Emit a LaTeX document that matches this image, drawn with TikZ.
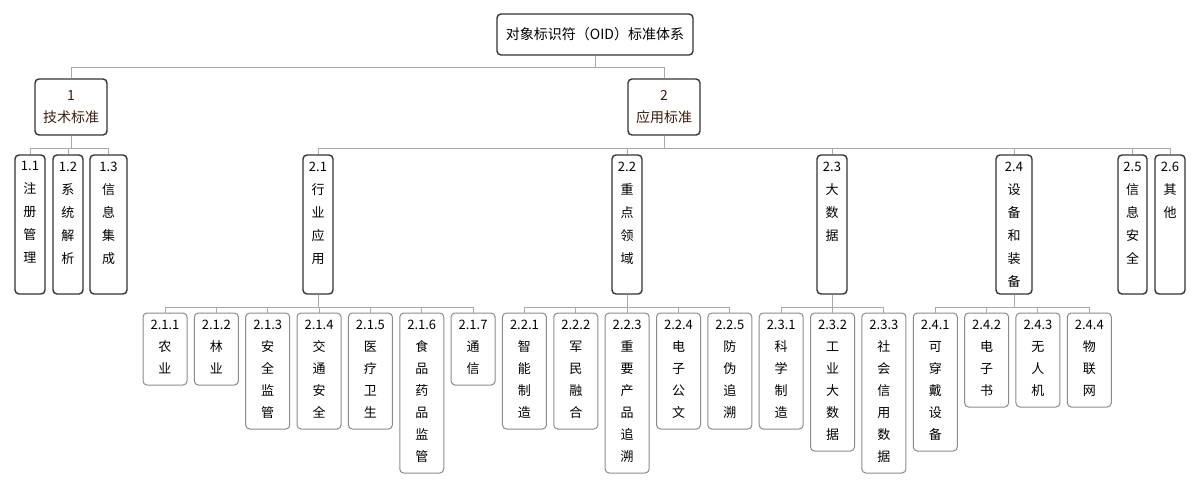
\documentclass[tikz,border=0pt]{standalone}
\usepackage{fontspec}
\setmainfont{Noto Sans CJK SC}
\usetikzlibrary{fit,positioning}
\definecolor{bossline}{HTML}{333333}
\definecolor{leafline}{HTML}{8A8A8A}
\definecolor{wireline}{HTML}{A8A8A8}
\definecolor{headtext}{HTML}{3A1F10}
\tikzset{
  bossbox/.style = {draw = bossline, line width = .7pt, rounded corners = 2pt, inner sep = 0pt},
  leafbox/.style = {draw = leafline, line width = .5pt, rounded corners = 2pt, inner sep = 0pt},
  wire/.style = {draw = wireline, line width = .5pt},
  label/.style = {inner sep = 0pt, align = center}
}
% box: style, name, left, top, right, bottom, text, line skip
\newcommand\obox[8]{%
  \node[#1, fit = {(#3,#4) (#5,#6)}] (#2) {};
  \node[label, anchor = north, font = \fontsize{6.5}{#8}\selectfont] at ([yshift = -3.5pt]#2.north) {#7};
}
\begin{document}
\begin{tikzpicture}[x = .5pt, y = -.5pt]
\useasboundingbox (0,0) rectangle (1200,489);
% root and first level
\node[bossbox, fit = {(497,14) (693,55)}] (root) {};
\node[label, font = \fontsize{7}{9}\selectfont] at (root.center) {对象标识符（OID）标准体系};
\node[bossbox, fit = {(35,79) (107,135)}] (tech) {};
\node[label, text = headtext, font = \fontsize{7}{11}\selectfont] at (tech.center) {1\\技术标准};
\node[bossbox, fit = {(628,79) (700,135)}] (appl) {};
\node[label, text = headtext, font = \fontsize{7}{11}\selectfont] at (appl.center) {2\\应用标准};
\draw[wire] (root.south) -- ++(0,12) -| (tech.north);
\draw[wire] (root.south) -- ++(0,12) -| (appl.north);
% second level
\foreach \name/\lft/\rgt/\txt in {t1/15/45/{1.1\\注\\册\\管\\理}, t2/53/83/{1.2\\系\\统\\解\\析},
  t3/90/127/{1.3\\信\\息\\集\\成}}
  {\obox{bossbox}{\name}{\lft}{155}{\rgt}{294}{\txt}{11.5}
   \draw[wire] (tech.south) -- ++(0,13) -| (\name.north);}
\foreach \name/\lft/\rgt/\txt in {a1/303/333/{2.1\\行\\业\\应\\用}, a2/612/642/{2.2\\重\\点\\领\\域},
  a3/817/847/{2.3\\大\\数\\据}, a4/996/1032/{2.4\\设\\备\\和\\装\\备},
  a5/1118/1147/{2.5\\信\\息\\安\\全}, a6/1155/1185/{2.6\\其\\他}}
  {\obox{bossbox}{\name}{\lft}{155}{\rgt}{294}{\txt}{11.5}
   \draw[wire] (appl.south) -- ++(0,13) -| (\name.north);}
% leaves
\foreach \i/\up/\n/\txt in {0/a1/2/{2.1.1\\农\\业}, 1/a1/2/{2.1.2\\林\\业}, 2/a1/4/{2.1.3\\安\\全\\监\\管},
  3/a1/4/{2.1.4\\交\\通\\安\\全}, 4/a1/4/{2.1.5\\医\\疗\\卫\\生}, 5/a1/6/{2.1.6\\食\\品\\药\\品\\监\\管},
  6/a1/2/{2.1.7\\通\\信}, 7/a2/4/{2.2.1\\智\\能\\制\\造}, 8/a2/4/{2.2.2\\军\\民\\融\\合},
  9/a2/6/{2.2.3\\重\\要\\产\\品\\追\\溯}, 10/a2/4/{2.2.4\\电\\子\\公\\文}, 11/a2/4/{2.2.5\\防\\伪\\追\\溯},
  12/a3/4/{2.3.1\\科\\学\\制\\造}, 13/a3/5/{2.3.2\\工\\业\\大\\数\\据}, 14/a3/6/{2.3.3\\社\\会\\信\\用\\数\\据},
  15/a4/5/{2.4.1\\可\\穿\\戴\\设\\备}, 16/a4/3/{2.4.2\\电\\子\\书}, 17/a4/3/{2.4.3\\无\\人\\机},
  18/a4/3/{2.4.4\\物\\联\\网}}
  {\pgfmathsetmacro\lft{143+51.35*\i}
   \pgfmathsetmacro\rgt{\lft+44}
   \pgfmathsetmacro\bot{313+22*(\n+1)+6}
   \obox{leafbox}{leaf\i}{\lft}{313}{\rgt}{\bot}{\txt}{11}
   \draw[wire] (\up.south) -- ++(0,13) -| (leaf\i.north);}
\end{tikzpicture}
\end{document}
